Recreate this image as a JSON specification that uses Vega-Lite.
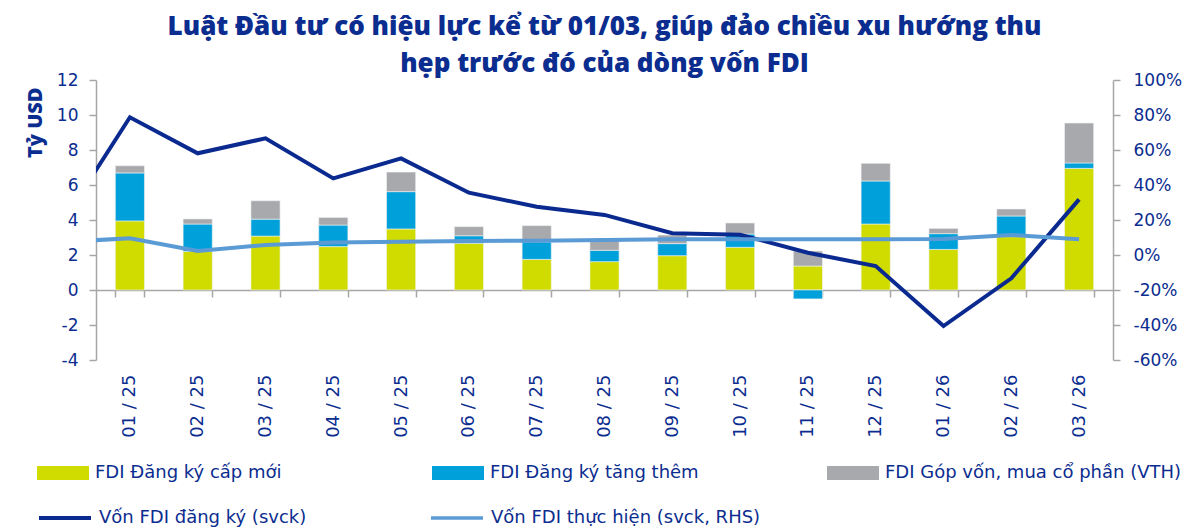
{
  "$schema": "https://vega.github.io/schema/vega-lite/v6.json",
  "width": 1017,
  "height": 280,
  "autosize": {"type": "none"},
  "padding": {"left": 96, "top": 80, "right": 86, "bottom": 167},
  "background": "white",
  "title": {
    "text": ["Luật Đầu tư có hiệu lực kể từ 01/03, giúp đảo chiều xu hướng thu", "hẹp trước đó của dòng vốn FDI"],
    "anchor": "middle",
    "font": "Open Sans",
    "fontSize": 26,
    "fontWeight": 800,
    "color": "#0b2d8f",
    "lineHeight": 37,
    "offset": -6
  },
  "config": {
    "view": {"stroke": null},
    "axis": {"grid": false, "labelFont": "DejaVu Sans", "labelFontSize": 17, "labelColor": "#0b2d8f", "domainColor": "#a6a6a6", "tickColor": "#a6a6a6", "domainWidth": 1.5, "tickWidth": 1.5, "tickSize": 7},
    "legend": {"labelFont": "DejaVu Sans", "labelFontSize": 18, "labelColor": "#0b2d8f", "title": null, "labelLimit": 500}
  },
  "datasets": {
    "bars": [
      {"m": "01 / 25", "s": "FDI Đăng ký cấp mới", "o": 1, "v": 3.95},
      {"m": "01 / 25", "s": "FDI Đăng ký tăng thêm", "o": 2, "v": 2.74},
      {"m": "01 / 25", "s": "FDI Góp vốn, mua cổ phần (VTH)", "o": 3, "v": 0.41},
      {"m": "02 / 25", "s": "FDI Đăng ký cấp mới", "o": 1, "v": 2.2},
      {"m": "02 / 25", "s": "FDI Đăng ký tăng thêm", "o": 2, "v": 1.57},
      {"m": "02 / 25", "s": "FDI Góp vốn, mua cổ phần (VTH)", "o": 3, "v": 0.29},
      {"m": "03 / 25", "s": "FDI Đăng ký cấp mới", "o": 1, "v": 3.08},
      {"m": "03 / 25", "s": "FDI Đăng ký tăng thêm", "o": 2, "v": 0.97},
      {"m": "03 / 25", "s": "FDI Góp vốn, mua cổ phần (VTH)", "o": 3, "v": 1.05},
      {"m": "04 / 25", "s": "FDI Đăng ký cấp mới", "o": 1, "v": 2.48},
      {"m": "04 / 25", "s": "FDI Đăng ký tăng thêm", "o": 2, "v": 1.23},
      {"m": "04 / 25", "s": "FDI Góp vốn, mua cổ phần (VTH)", "o": 3, "v": 0.44},
      {"m": "05 / 25", "s": "FDI Đăng ký cấp mới", "o": 1, "v": 3.49},
      {"m": "05 / 25", "s": "FDI Đăng ký tăng thêm", "o": 2, "v": 2.13},
      {"m": "05 / 25", "s": "FDI Góp vốn, mua cổ phần (VTH)", "o": 3, "v": 1.12},
      {"m": "06 / 25", "s": "FDI Đăng ký cấp mới", "o": 1, "v": 2.67},
      {"m": "06 / 25", "s": "FDI Đăng ký tăng thêm", "o": 2, "v": 0.43},
      {"m": "06 / 25", "s": "FDI Góp vốn, mua cổ phần (VTH)", "o": 3, "v": 0.52},
      {"m": "07 / 25", "s": "FDI Đăng ký cấp mới", "o": 1, "v": 1.75},
      {"m": "07 / 25", "s": "FDI Đăng ký tăng thêm", "o": 2, "v": 1.0},
      {"m": "07 / 25", "s": "FDI Góp vốn, mua cổ phần (VTH)", "o": 3, "v": 0.93},
      {"m": "08 / 25", "s": "FDI Đăng ký cấp mới", "o": 1, "v": 1.62},
      {"m": "08 / 25", "s": "FDI Đăng ký tăng thêm", "o": 2, "v": 0.65},
      {"m": "08 / 25", "s": "FDI Góp vốn, mua cổ phần (VTH)", "o": 3, "v": 0.58},
      {"m": "09 / 25", "s": "FDI Đăng ký cấp mới", "o": 1, "v": 1.96},
      {"m": "09 / 25", "s": "FDI Đăng ký tăng thêm", "o": 2, "v": 0.69},
      {"m": "09 / 25", "s": "FDI Góp vốn, mua cổ phần (VTH)", "o": 3, "v": 0.49},
      {"m": "10 / 25", "s": "FDI Đăng ký cấp mới", "o": 1, "v": 2.44},
      {"m": "10 / 25", "s": "FDI Đăng ký tăng thêm", "o": 2, "v": 0.76},
      {"m": "10 / 25", "s": "FDI Góp vốn, mua cổ phần (VTH)", "o": 3, "v": 0.63},
      {"m": "11 / 25", "s": "FDI Đăng ký cấp mới", "o": 1, "v": 1.37},
      {"m": "11 / 25", "s": "FDI Đăng ký tăng thêm", "o": 2, "v": -0.51},
      {"m": "11 / 25", "s": "FDI Góp vốn, mua cổ phần (VTH)", "o": 3, "v": 0.86},
      {"m": "12 / 25", "s": "FDI Đăng ký cấp mới", "o": 1, "v": 3.77},
      {"m": "12 / 25", "s": "FDI Đăng ký tăng thêm", "o": 2, "v": 2.46},
      {"m": "12 / 25", "s": "FDI Góp vốn, mua cổ phần (VTH)", "o": 3, "v": 1.01},
      {"m": "01 / 26", "s": "FDI Đăng ký cấp mới", "o": 1, "v": 2.32},
      {"m": "01 / 26", "s": "FDI Đăng ký tăng thêm", "o": 2, "v": 0.9},
      {"m": "01 / 26", "s": "FDI Góp vốn, mua cổ phần (VTH)", "o": 3, "v": 0.3},
      {"m": "02 / 26", "s": "FDI Đăng ký cấp mới", "o": 1, "v": 3.05},
      {"m": "02 / 26", "s": "FDI Đăng ký tăng thêm", "o": 2, "v": 1.18},
      {"m": "02 / 26", "s": "FDI Góp vốn, mua cổ phần (VTH)", "o": 3, "v": 0.4},
      {"m": "03 / 26", "s": "FDI Đăng ký cấp mới", "o": 1, "v": 6.95},
      {"m": "03 / 26", "s": "FDI Đăng ký tăng thêm", "o": 2, "v": 0.31},
      {"m": "03 / 26", "s": "FDI Góp vốn, mua cổ phần (VTH)", "o": 3, "v": 2.28}
    ],
    "lines": [
      {"m": "12 / 24", "s": "Vốn FDI đăng ký (svck)", "p": 0.183},
      {"m": "01 / 25", "s": "Vốn FDI đăng ký (svck)", "p": 0.787},
      {"m": "02 / 25", "s": "Vốn FDI đăng ký (svck)", "p": 0.581},
      {"m": "03 / 25", "s": "Vốn FDI đăng ký (svck)", "p": 0.667},
      {"m": "04 / 25", "s": "Vốn FDI đăng ký (svck)", "p": 0.438},
      {"m": "05 / 25", "s": "Vốn FDI đăng ký (svck)", "p": 0.552},
      {"m": "06 / 25", "s": "Vốn FDI đăng ký (svck)", "p": 0.356},
      {"m": "07 / 25", "s": "Vốn FDI đăng ký (svck)", "p": 0.276},
      {"m": "08 / 25", "s": "Vốn FDI đăng ký (svck)", "p": 0.229},
      {"m": "09 / 25", "s": "Vốn FDI đăng ký (svck)", "p": 0.124},
      {"m": "10 / 25", "s": "Vốn FDI đăng ký (svck)", "p": 0.116},
      {"m": "11 / 25", "s": "Vốn FDI đăng ký (svck)", "p": 0.013},
      {"m": "12 / 25", "s": "Vốn FDI đăng ký (svck)", "p": -0.063},
      {"m": "01 / 26", "s": "Vốn FDI đăng ký (svck)", "p": -0.406},
      {"m": "02 / 26", "s": "Vốn FDI đăng ký (svck)", "p": -0.133},
      {"m": "03 / 26", "s": "Vốn FDI đăng ký (svck)", "p": 0.318},
      {"m": "12 / 24", "s": "Vốn FDI thực hiện (svck, RHS)", "p": 0.075},
      {"m": "01 / 25", "s": "Vốn FDI thực hiện (svck, RHS)", "p": 0.095},
      {"m": "02 / 25", "s": "Vốn FDI thực hiện (svck, RHS)", "p": 0.023},
      {"m": "03 / 25", "s": "Vốn FDI thực hiện (svck, RHS)", "p": 0.057},
      {"m": "04 / 25", "s": "Vốn FDI thực hiện (svck, RHS)", "p": 0.072},
      {"m": "05 / 25", "s": "Vốn FDI thực hiện (svck, RHS)", "p": 0.076},
      {"m": "06 / 25", "s": "Vốn FDI thực hiện (svck, RHS)", "p": 0.08},
      {"m": "07 / 25", "s": "Vốn FDI thực hiện (svck, RHS)", "p": 0.082},
      {"m": "08 / 25", "s": "Vốn FDI thực hiện (svck, RHS)", "p": 0.086},
      {"m": "09 / 25", "s": "Vốn FDI thực hiện (svck, RHS)", "p": 0.09},
      {"m": "10 / 25", "s": "Vốn FDI thực hiện (svck, RHS)", "p": 0.09},
      {"m": "11 / 25", "s": "Vốn FDI thực hiện (svck, RHS)", "p": 0.09},
      {"m": "12 / 25", "s": "Vốn FDI thực hiện (svck, RHS)", "p": 0.09},
      {"m": "01 / 26", "s": "Vốn FDI thực hiện (svck, RHS)", "p": 0.091},
      {"m": "02 / 26", "s": "Vốn FDI thực hiện (svck, RHS)", "p": 0.114},
      {"m": "03 / 26", "s": "Vốn FDI thực hiện (svck, RHS)", "p": 0.09}
    ]
  },
  "layer": [
    {
      "data": {"name": "bars"},
      "mark": {"type": "bar", "stroke": "#f2f2f2", "strokeWidth": 0.6},
      "encoding": {
        "x": {
          "field": "m", "type": "nominal", "sort": null,
          "scale": {"paddingInner": 0.57, "paddingOuter": 0.285},
          "axis": {"title": null, "offset": -70, "labelAngle": 270, "labelPadding": 77, "tickBand": "extent", "labelFontSize": 18}
        },
        "y": {
          "field": "v", "type": "quantitative", "stack": "zero",
          "scale": {"domain": [-4, 12], "nice": false},
          "axis": {"values": [-4, -2, 0, 2, 4, 6, 8, 10, 12], "labelExpr": "replace(datum.label, '\u2212', '-')", "title": "Tỷ USD", "titleFont": "Open Sans", "titleFontSize": 20, "titleFontWeight": 800, "titleColor": "#0b2d8f", "titleAngle": 270, "titleAlign": "right", "titleBaseline": "middle", "titleX": -61, "titleY": 7, "labelPadding": 11}
        },
        "fill": {
          "field": "s", "type": "nominal",
          "scale": {"domain": ["FDI Đăng ký cấp mới", "FDI Đăng ký tăng thêm", "FDI Góp vốn, mua cổ phần (VTH)"], "range": ["#d0dc00", "#00a0da", "#a7a9ac"]},
          "legend": {"orient": "none", "legendX": -59, "legendY": 367, "direction": "horizontal", "columns": 3, "gridAlign": "all", "columnPadding": 40, "symbolType": "M-1,-0.27H1V0.27H-1Z", "symbolSize": 2704, "symbolStrokeWidth": 0, "labelOffset": 6}
        },
        "order": {"field": "o", "type": "quantitative"}
      }
    },
    {
      "data": {"name": "lines"},
      "mark": {"type": "line", "strokeWidth": 4, "clip": true},
      "encoding": {
        "x": {
          "field": "m", "type": "nominal", "sort": null,
          "scale": {"domain": ["12 / 24", "01 / 25", "02 / 25", "03 / 25", "04 / 25", "05 / 25", "06 / 25", "07 / 25", "08 / 25", "09 / 25", "10 / 25", "11 / 25", "12 / 25", "01 / 26", "02 / 26", "03 / 26"], "range": [-67.8, 1017], "paddingInner": 0.57, "paddingOuter": 0.285},
          "axis": null
        },
        "y": {
          "field": "p", "type": "quantitative",
          "scale": {"domain": [-0.6, 1.0], "nice": false},
          "axis": {"orient": "right", "values": [-0.6, -0.4, -0.2, 0, 0.2, 0.4, 0.6, 0.8, 1.0], "format": ".0%", "labelExpr": "replace(datum.label, '\u2212', '-')", "title": null, "labelPadding": 13}
        },
        "stroke": {
          "field": "s", "type": "nominal",
          "scale": {"domain": ["Vốn FDI đăng ký (svck)", "Vốn FDI thực hiện (svck, RHS)"], "range": ["#0b2a8f", "#5b9bd5"]},
          "legend": {"orient": "none", "legendX": -59, "legendY": 410, "direction": "horizontal", "columns": 2, "gridAlign": "all", "columnPadding": 55, "symbolType": "stroke", "symbolSize": 2704, "symbolStrokeWidth": 4, "labelOffset": 6}
        },
        "strokeWidth": {"field": "s", "type": "nominal", "scale": {"domain": ["Vốn FDI đăng ký (svck)", "Vốn FDI thực hiện (svck, RHS)"], "range": [4, 3.5]}, "legend": null}
      }
    }
  ],
  "resolve": {"scale": {"y": "independent", "x": "independent"}}
}
